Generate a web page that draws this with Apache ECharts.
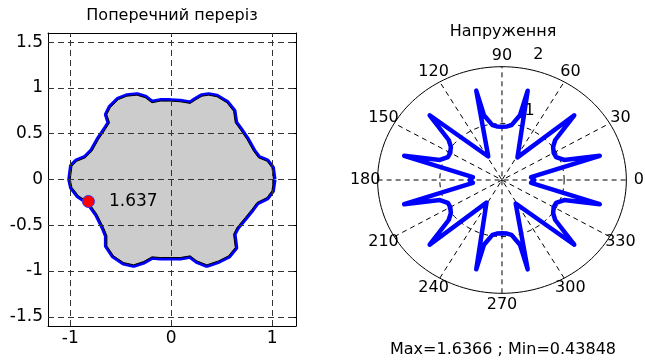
<!DOCTYPE html>
<html><head><meta charset="utf-8">
<script src="https://cdn.jsdelivr.net/npm/echarts@6/dist/echarts.min.js"></script>
<style>html,body{margin:0;padding:0;background:#fff}#c{width:645px;height:363px}</style>
</head><body><div id="c"></div>
<script>
// ---------- data: cross-section outline ----------
const SHAPE_X = [1.013,0.997,0.948,0.864,0.815,0.75,0.683,0.634,0.617,0.551,0.452,0.369,0.304,0.238,0.188,0.089,-0.01,
  -0.109,-0.191,-0.257,-0.34,-0.439,-0.522,-0.604,-0.637,-0.611,-0.653,-0.72,-0.785,-0.851,-0.934,-0.983,-1.0,
  -0.983,-0.918,-0.819,-0.736,-0.67,-0.637,-0.637,-0.571,-0.472,-0.373,-0.274,-0.191,-0.109,
  -0.01,0.089,0.188,0.254,0.353,0.468,0.567,0.634,0.617,0.65,0.733,0.799,0.849,0.948,0.997];
const SHAPE_Y = [0,0.128,0.2,0.237,0.309,0.437,0.546,0.62,0.746,0.838,0.904,0.921,0.91,0.867,0.831,0.849,0.856,
  0.856,0.838,0.893,0.921,0.91,0.874,0.784,0.71,0.62,0.546,0.437,0.309,0.237,0.2,0.145,0,
  -0.087,-0.178,-0.251,-0.379,-0.525,-0.615,-0.725,-0.834,-0.907,-0.932,-0.896,-0.845,-0.852,
  -0.852,-0.852,-0.834,-0.889,-0.932,-0.889,-0.834,-0.743,-0.598,-0.525,-0.415,-0.325,-0.251,-0.197,-0.123];
const MAX_POINT = [-0.82, -0.24];
const MAX_LABEL = '1.637';
const X_TICKS = [-1, 0, 1];
const Y_TICKS = [-1.5, -1, -0.5, 0, 0.5, 1, 1.5];

// ---------- data: stress polar curve ----------
const POLAR_DEG = [0,6,15.2,19.5,25,30,35.5,39.5,44.5,58,60,62,75.3,75.8,81,85,90,
  95,99,104.2,104.7,118,120,122,135.5,140.5,144.5,150,155,160.5,164.8,174,180,
  186,195.2,199.5,205,210,215.5,219.5,224.5,238,240,242,255.3,255.8,261,265,270,
  275,279,284.2,284.7,298,300,302,315.5,320.5,324.5,330,335,340.5,344.8,354,360];
const POLAR_R = [0.52,0.47,1.63,1.06,0.96,0.96,1.01,1.11,1.63,0.47,0.44,0.47,1.63,1.18,0.98,0.95,0.94,
  0.95,0.98,1.18,1.63,0.47,0.44,0.47,1.63,1.11,1.01,0.96,0.96,1.06,1.63,0.47,0.52,
  0.47,1.63,1.06,0.96,0.96,1.01,1.11,1.63,0.47,0.44,0.47,1.63,1.18,0.98,0.95,0.94,
  0.95,0.98,1.18,1.63,0.47,0.44,0.47,1.63,1.11,1.01,0.96,0.96,1.06,1.63,0.47,0.52];
const ANGLE_TICKS = [0,30,60,90,120,150,180,210,240,270,300,330];
const RING_TICKS = [1, 2];
const TITLE_LEFT = 'Поперечний переріз';
const TITLE_RIGHT = 'Напруження';
const FOOTER = 'Max=1.6366 ; Min=0.43848';

// ---------- build ----------
const FONT = 'DejaVu Sans';
const rad = d => d * Math.PI / 180;
const shapePts = SHAPE_X.map((x, i) => [x, SHAPE_Y[i]]);
const outline = shapePts.concat([shapePts[0]]);
const polarPts = POLAR_DEG.map((d, i) => [POLAR_R[i] * Math.cos(rad(d)), POLAR_R[i] * Math.sin(rad(d))]);
const RMAX = RING_TICKS[RING_TICKS.length - 1];
function ring(r) { const a = []; for (let d = 0; d <= 360; d += 2) a.push([r * Math.cos(rad(d)), r * Math.sin(rad(d))]); return a; }

const series = [];
// left: dashed grid lines
series.push({
  type: 'line', xAxisIndex: 0, yAxisIndex: 0, data: [], z: 1, silent: true,
  markLine: {
    silent: true, symbol: ['none', 'none'], label: { show: false }, animation: false,
    lineStyle: { color: '#333', width: 1, type: [6, 4] },
    data: X_TICKS.map(v => ({ xAxis: v })).concat(Y_TICKS.map(v => ({ yAxis: v })))
  }
});
series.push({
  type: 'line', xAxisIndex: 0, yAxisIndex: 0, data: outline, symbol: 'none', z: 2, silent: true,
  lineStyle: { color: '#0000ff', width: 6, join: 'round' }
});
series.push({
  type: 'custom', xAxisIndex: 0, yAxisIndex: 0, data: shapePts, z: 3, silent: true,
  renderItem: (params, api) => {
    if (params.dataIndex !== 0) return null;
    return { type: 'polygon', shape: { points: shapePts.map(p => api.coord(p)) },
      style: { fill: '#cccccc', stroke: '#000', lineWidth: 1 } };
  }
});
series.push({
  type: 'scatter', xAxisIndex: 0, yAxisIndex: 0, data: [MAX_POINT], z: 5, symbolSize: 12,
  itemStyle: { color: '#ff0000', opacity: 1, borderColor: '#3030ff', borderWidth: 1 },
  label: { show: true, position: 'right', distance: 14, formatter: MAX_LABEL,
    fontFamily: FONT, fontSize: 17, color: '#000' }
});
// right: polar frame
RING_TICKS.forEach(r => series.push({
  type: 'line', xAxisIndex: 2, yAxisIndex: 2, data: ring(r), symbol: 'none', silent: true, z: 2,
  lineStyle: { color: '#000', width: 1, type: r === RMAX ? 'solid' : [5, 4] }
}));
ANGLE_TICKS.filter(a => a < 180).forEach(a => series.push({
  type: 'line', xAxisIndex: 2, yAxisIndex: 2, symbol: 'none', silent: true, z: 2,
  data: [[-RMAX * Math.cos(rad(a)), -RMAX * Math.sin(rad(a))], [RMAX * Math.cos(rad(a)), RMAX * Math.sin(rad(a))]],
  lineStyle: { color: '#000', width: 1, type: [5, 4] }
}));
series.push({
  type: 'scatter', xAxisIndex: 2, yAxisIndex: 2, symbolSize: 1, silent: true, z: 4,
  itemStyle: { color: 'rgba(0,0,0,0)', opacity: 1 },
  data: ANGLE_TICKS.map(a => [1.1 * RMAX * Math.cos(rad(a)), 1.1 * RMAX * Math.sin(rad(a)), a]),
  label: { show: true, position: 'inside', formatter: p => String(p.data[2]), fontFamily: FONT, fontSize: 16, color: '#000' }
});
series.push({
  type: 'scatter', xAxisIndex: 2, yAxisIndex: 2, symbolSize: 1, silent: true, z: 4,
  itemStyle: { color: 'rgba(0,0,0,0)', opacity: 1 },
  data: RING_TICKS.map(r => [r * Math.cos(rad(82)), r * Math.sin(rad(82)), r]),
  label: { show: true, position: 'inside', offset: [19, -13.3], formatter: p => String(p.data[2]), fontFamily: FONT, fontSize: 16, color: '#000' }
});
series.push({
  type: 'line', xAxisIndex: 2, yAxisIndex: 2, data: polarPts, symbol: 'none', z: 6, silent: true,
  lineStyle: { color: '#0000ff', width: 4.5, join: 'round', cap: 'round' }
});

const axisLine = { show: true, onZero: false, lineStyle: { color: '#000', width: 1 } };
const option = {
  animation: false,
  backgroundColor: '#fff',
  grid: [
    { left: 48, top: 33, width: 248, height: 293 },
    { left: 358.95, top: 49.7, width: 287.5, height: 260.6 }
  ],
  xAxis: [
    { gridIndex: 0, type: 'value', min: -1.22, max: 1.235, position: 'bottom', axisLine,
      axisTick: { inside: true, length: 4, customValues: X_TICKS, lineStyle: { color: '#000' } },
      axisLabel: { customValues: X_TICKS, fontFamily: FONT, fontSize: 17, color: '#000', margin: 4 },
      splitLine: { show: false } },
    { gridIndex: 0, type: 'value', min: -1.22, max: 1.235, position: 'top', axisLine,
      axisTick: { inside: true, length: 4, customValues: X_TICKS, lineStyle: { color: '#000' } },
      axisLabel: { show: false }, splitLine: { show: false } },
    { gridIndex: 1, type: 'value', min: -2.3, max: 2.3, show: false }
  ],
  yAxis: [
    { gridIndex: 0, type: 'value', min: -1.6, max: 1.6, position: 'left', axisLine,
      axisTick: { inside: true, length: 4, customValues: Y_TICKS, lineStyle: { color: '#000' } },
      axisLabel: { customValues: Y_TICKS, fontFamily: FONT, fontSize: 17, color: '#000', margin: 5 },
      splitLine: { show: false } },
    { gridIndex: 0, type: 'value', min: -1.6, max: 1.6, position: 'right', axisLine,
      axisTick: { inside: true, length: 4, customValues: Y_TICKS, lineStyle: { color: '#000' } },
      axisLabel: { show: false }, splitLine: { show: false } },
    { gridIndex: 1, type: 'value', min: -2.3, max: 2.3, show: false }
  ],
  graphic: [
    { type: 'text', x: 172, y: 16, style: { text: TITLE_LEFT, fill: '#000', fontFamily: FONT, fontSize: 16, align: 'center', verticalAlign: 'middle' } },
    { type: 'text', x: 503, y: 31.5, style: { text: TITLE_RIGHT, fill: '#000', fontFamily: FONT, fontSize: 16, align: 'center', verticalAlign: 'middle' } },
    { type: 'text', x: 503, y: 349.5, style: { text: FOOTER, fill: '#000', fontFamily: FONT, fontSize: 16, align: 'center', verticalAlign: 'middle' } }
  ],
  series
};
const chart = echarts.init(document.getElementById('c'), null, { renderer: 'canvas' });
chart.setOption(option);
</script></body></html>
